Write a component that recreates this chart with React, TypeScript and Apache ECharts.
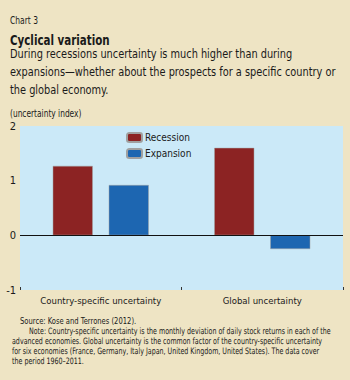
import React, { useEffect, useRef } from "react";
import * as echarts from "echarts";

const categories = ["Country-specific uncertainty", "Global uncertainty"];
const recession = [1.27, 1.6];
const expansion = [0.92, -0.25];
const yTicks = [-1, 0, 1, 2];

const FONT = '"DejaVu Sans Condensed", "Liberation Sans Narrow", "Liberation Sans", sans-serif';

const titleLines = [
  "During recessions uncertainty is much higher than during",
  "expansions\u2014whether about the prospects for a specific country or",
  "the global economy.",
];
const noteLines = [
  "Note: Country-specific uncertainty is the monthly deviation of daily stock returns in each of the",
  "advanced economies. Global uncertainty is the common factor of the country-specific uncertainty",
  "for six economies (France, Germany, Italy Japan, United Kingdom, United States). The data cover",
  "the period 1960\u20132011.",
];

export default function App() {
  const ref = useRef<HTMLDivElement>(null);
  useEffect(() => {
    if (!ref.current) return;
    const chart = echarts.init(ref.current, null, { renderer: "svg" });
    const txt = (
      text: string,
      x: number,
      y: number,
      size: number,
      sx: number,
      weight = "normal",
      color = "#1a1a1a"
    ) => ({
      type: "text",
      x,
      y,
      scaleX: sx,
      style: { text, x: 0, y: 0, font: `${weight} ${size}px ${FONT}`, fill: color, verticalAlign: "middle" },
    });
    const graphics: any[] = [
      txt("Chart 3", 10, 20, 10.5, 0.8),
      txt("Cyclical variation", 10, 40.5, 14.5, 0.79, "bold"),
      ...titleLines.map((l, i) => txt(l, 10, 54 + i * 18, 12.8, 0.85)),
      txt("(uncertainty index)", 10, 113, 10, 0.83),
      txt("Source: Kose and Terrones (2012).", 20, 321, 8.8, 0.86),
      ...noteLines.map((l, i) => txt(l, i === 0 ? 29 : 12, 331.5 + i * 10, 8.8, 0.8)),
    ];
    chart.setOption({
      animation: false,
      backgroundColor: "#EEE4C4",
      textStyle: { fontFamily: FONT },
      grid: {
        left: 20,
        right: 7,
        top: 126,
        bottom: 90,
        show: true,
        backgroundColor: "#CBE9F8",
        borderWidth: 0,
      },
      legend: {
        orient: "vertical",
        left: 126,
        top: 132,
        padding: 0,
        itemWidth: 15,
        itemHeight: 9,
        itemGap: 5,
        textStyle: { fontSize: 10, color: "#1a1a1a", padding: [0, 0, 0, -2] },
        data: ["Recession", "Expansion"],
      },
      xAxis: {
        type: "category",
        data: categories,
        axisLine: { show: false, onZero: false },
        axisTick: { show: true, inside: true, length: 3, lineStyle: { color: "#333" } },
        axisLabel: { fontSize: 9.5, color: "#1a1a1a", margin: 5, interval: 0 },
      },
      yAxis: {
        type: "value",
        min: -1,
        max: 2,
        interval: 1,
        axisLine: { show: false },
        axisTick: { show: false },
        splitLine: { show: false },
        axisLabel: {
          fontSize: 11,
          color: "#1a1a1a",
          margin: 4,
          formatter: (v: number) => (yTicks.includes(v) ? String(v) : ""),
        },
      },
      series: [
        {
          name: "Recession",
          type: "bar",
          data: recession,
          barWidth: 40,
          barGap: "40%",
          itemStyle: { color: "#8C2323", borderColor: "#a0a0a0", borderWidth: 0.5 },
          markLine: {
            silent: true,
            symbol: "none",
            label: { show: false },
            lineStyle: { color: "#111", width: 1, type: "solid" },
            data: [{ yAxis: 0 }],
          },
        },
        {
          name: "Expansion",
          type: "bar",
          data: expansion,
          barWidth: 40,
          itemStyle: { color: "#1D66B1", borderColor: "#a0a0a0", borderWidth: 0.5 },
        },
      ],
      graphic: graphics,
    });
    return () => chart.dispose();
  }, []);
  return <div ref={ref} style={{ width: 350, height: 380, position: "absolute", left: 0, top: 0 }} />;
}
